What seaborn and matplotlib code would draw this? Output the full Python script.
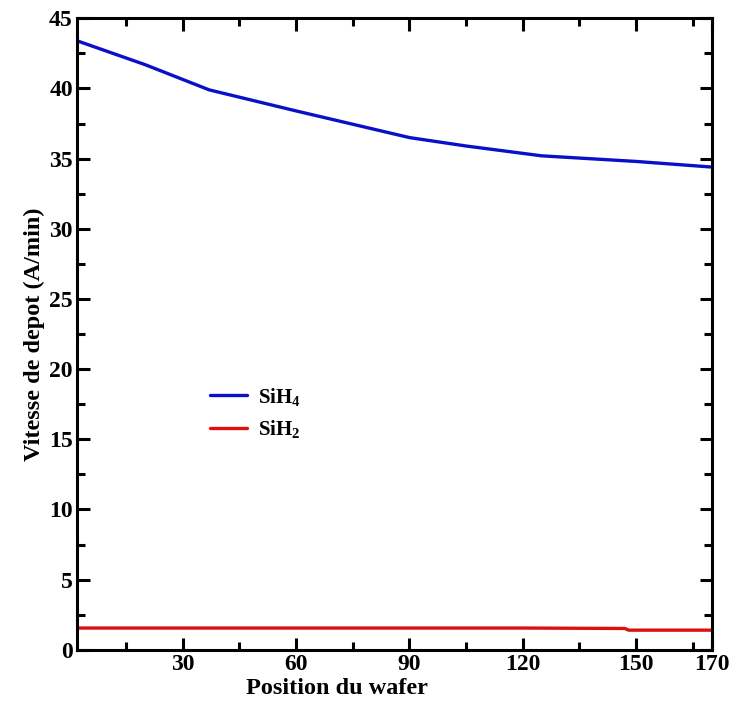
import numpy as np
import pandas as pd
import matplotlib
matplotlib.use("Agg")
import matplotlib.pyplot as plt
import seaborn as sns

# valeurs
pos_sih4 = [2, 20, 37, 60, 90, 105, 125, 150, 170]
vit_sih4 = [43.4, 41.7, 39.9, 38.4, 36.5, 35.9, 35.2, 34.8, 34.4]
pos_sih2 = [2, 60, 120, 147, 148, 170]
vit_sih2 = [1.55, 1.55, 1.55, 1.52, 1.4, 1.4]

noms = [r"SiH$_4$", r"SiH$_2$"]
couleurs = ["#0a10c8", "#dc1010"]

xticks = [30, 60, 90, 120, 150, 170]
yticks = np.arange(0, 50, 5)

sns.set_theme(style="ticks")
plt.rcParams["font.family"] = ["Liberation Serif", "DejaVu Serif"]
plt.rcParams["font.weight"] = "bold"
plt.rcParams["text.color"] = "black"
plt.rcParams["axes.labelcolor"] = "black"
plt.rcParams["xtick.color"] = "black"
plt.rcParams["ytick.color"] = "black"
plt.rcParams["mathtext.fontset"] = "custom"
plt.rcParams["mathtext.rm"] = "Liberation Serif:bold"
plt.rcParams["mathtext.bf"] = "Liberation Serif:bold"
plt.rcParams["mathtext.default"] = "bf"

df = pd.concat([
    pd.DataFrame({"x": pos_sih4, "y": vit_sih4, "espece": noms[0]}),
    pd.DataFrame({"x": pos_sih2, "y": vit_sih2, "espece": noms[1]}),
])

fig = plt.figure(figsize=(7.33, 7.04), dpi=100)
ax = fig.add_axes([0.105, 0.077, 0.866, 0.897])

sns.lineplot(data=df, x="x", y="y", hue="espece", palette=couleurs,
             linewidth=2.4, estimator=None, ax=ax)

ax.set_xlim(2, 170)
ax.set_ylim(0, 45)
ax.set_xticks(xticks)
ax.set_xticks(np.arange(15, 170, 15), minor=True)
ax.set_yticks(yticks)
ax.set_yticks(np.arange(2.5, 45, 5), minor=True)

ax.tick_params(which="both", direction="in", top=True, right=True,
               width=2.2, labelsize=17, pad=3)
ax.tick_params(which="major", length=9)
ax.tick_params(which="minor", length=6)
for s in ax.spines.values():
    s.set_linewidth(2.2)
    s.set_color("black")

ax.set_xlabel("Position du wafer", fontsize=17.5, fontweight="bold", labelpad=1)
ax.xaxis.set_label_coords(0.41, -0.045)
ax.set_ylabel("Vitesse de depot (A/min)", fontsize=17.5, fontweight="bold", labelpad=3)

ax.legend(title=None, frameon=False, loc="center left",
          bbox_to_anchor=(0.18, 0.375), fontsize=15, handlelength=1.8,
          handletextpad=0.5, labelspacing=0.5)

fig.savefig("out.png", dpi=100)
